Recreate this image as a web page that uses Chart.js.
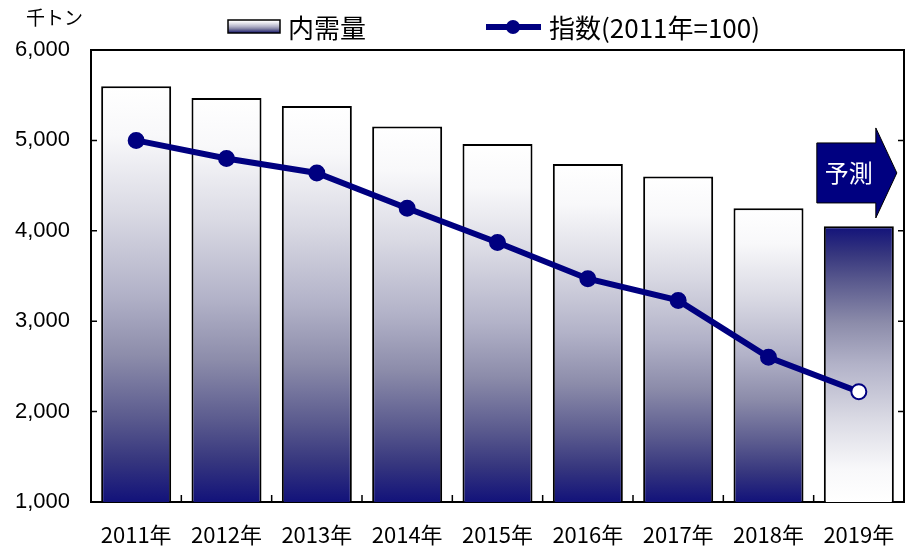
<!DOCTYPE html>
<html lang="ja">
<head>
<meta charset="utf-8">
<title>内需量と指数</title>
<script src="https://cdn.jsdelivr.net/npm/chart.js@4.4.1/dist/chart.umd.min.js"></script>
<style>
  html, body { margin: 0; padding: 0; background: #fff; }
  #chart-demand { display: block; }
</style>
</head>
<body>
<canvas id="chart-demand" width="905" height="549"></canvas>
<script>
// ===== DATA =====
const years = ["2011年", "2012年", "2013年", "2014年", "2015年", "2016年", "2017年", "2018年", "2019年"];
const demand = [5600, 5470, 5380, 5155, 4960, 4740, 4600, 4250, 4050]; // 千トン
const indexValues = [100, 98.0, 96.4, 92.5, 88.7, 84.7, 82.3, 76.0, 72.2]; // 2011年=100
const yTicks = [1000, 2000, 3000, 4000, 5000, 6000];
const forecastIndex = 8; // 2019年は予測

const NAVY = "#000080";
const JP_FONT = '"Noto Sans CJK JP", "Noto Sans", sans-serif';

// 白 → 紺のグラデーション（上から下）
const gradStops = [
  [0, "#ffffff"],
  [0.12, "#f8f8fa"],
  [0.3, "#dadae4"],
  [0.5, "#b2b2c8"],
  [0.65, "#8c8caa"],
  [0.8, "#5a5a8e"],
  [0.9, "#36367e"],
  [1, "#12127a"],
];

function barGradient(ctx, top, bottom, reverse) {
  const g = ctx.createLinearGradient(0, top, 0, bottom);
  gradStops.forEach(([p, c]) => g.addColorStop(reverse ? 1 - p : p, c));
  return g;
}

const canvas = document.getElementById("chart-demand");
const ctx = canvas.getContext("2d");

new Chart(ctx, {
  data: {
    labels: years,
    datasets: [
      {
        type: "line",
        label: "指数(2011年=100)",
        data: indexValues,
        yAxisID: "y1",
        order: 0,
        borderColor: NAVY,
        borderWidth: 6,
        tension: 0,
        pointRadius: 7.5,
        pointHoverRadius: 7.5,
        pointBorderWidth: 2,
        pointBorderColor: NAVY,
        pointBackgroundColor: years.map((y, i) => (i === forecastIndex ? "#fff" : NAVY)),
      },
      {
        type: "bar",
        label: "内需量",
        data: demand,
        yAxisID: "y",
        order: 1,
        borderColor: "#000",
        borderWidth: 2,
        barPercentage: 0.775,
        categoryPercentage: 1,
        backgroundColor: (context) => {
          const { chart, dataIndex } = context;
          if (!chart.chartArea) return "#fff";
          const ys = chart.scales.y;
          const top = ys.getPixelForValue(demand[dataIndex]);
          const bottom = ys.getPixelForValue(ys.min);
          return barGradient(chart.ctx, top, bottom, dataIndex === forecastIndex);
        },
      },
    ],
  },
  options: {
    responsive: false,
    animation: false,
    layout: {
      autoPadding: false, // без автоотступа под точки
      padding: { top: 50, right: 1, bottom: 0, left: 0 },
    },
    plugins: {
      legend: { display: false },
      tooltip: { enabled: false },
    },
    scales: {
      x: {
        offset: true,
        grid: { display: false },
        border: { display: false },
        afterFit: (scale) => {
          scale.height = 47;
          scale.paddingLeft = 0;
          scale.paddingRight = 0;
        },
        ticks: {
          color: "#000",
          font: { family: JP_FONT, size: 22 },
          padding: 11,
          maxRotation: 0,
        },
      },
      y: {
        min: 1000,
        max: 6000,
        grid: { display: false },
        border: { display: false },
        afterFit: (scale) => {
          scale.width = 91;
        },
        afterBuildTicks: (scale) => {
          scale.ticks = yTicks.map((v) => ({ value: v }));
        },
        ticks: {
          color: "#000",
          font: { family: '"Liberation Sans", Arial, sans-serif', size: 22 },
          padding: 13,
          callback: (v) => v.toLocaleString("en-US"),
        },
      },
      y1: {
        display: false,
        position: "right",
        min: 60,
        max: 110,
      },
    },
  },
  plugins: [
    {
      // 枠と内向きの目盛り
      id: "frameTicks",
      beforeDatasetsDraw(chart) {
        const { ctx, chartArea: { left, right, top, bottom }, scales } = chart;
        ctx.save();
        ctx.strokeStyle = "#000";
        ctx.lineWidth = 2;
        ctx.strokeRect(left, top, right - left, bottom - top);

        ctx.lineWidth = 1.5;
        ctx.beginPath();
        yTicks.forEach((v) => {
          const y = scales.y.getPixelForValue(v);
          ctx.moveTo(left, y);
          ctx.lineTo(left + 6, y);
          ctx.moveTo(right - 6, y);
          ctx.lineTo(right, y);
        });
        for (let i = 1; i < years.length; i++) {
          const x = (scales.x.getPixelForValue(i - 1) + scales.x.getPixelForValue(i)) / 2;
          ctx.moveTo(x, bottom);
          ctx.lineTo(x, bottom - 7);
        }
        ctx.stroke();
        ctx.restore();
      },
    },
    {
      // 予測の矢印
      id: "forecastArrow",
      afterDatasetsDraw(chart) {
        const { ctx, scales } = chart;
        const cx = scales.x.getPixelForValue(forecastIndex);
        const cy = scales.y.getPixelForValue(4640);
        const x0 = cx - 42, x1 = cx + 17, tip = cx + 38;

        ctx.save();
        ctx.beginPath();
        ctx.moveTo(x0, cy - 30);
        ctx.lineTo(x1, cy - 30);
        ctx.lineTo(x1, cy - 45);
        ctx.lineTo(tip, cy);
        ctx.lineTo(x1, cy + 45);
        ctx.lineTo(x1, cy + 30);
        ctx.lineTo(x0, cy + 30);
        ctx.closePath();
        ctx.fillStyle = NAVY;
        ctx.fill();
        ctx.strokeStyle = "#000";
        ctx.lineWidth = 1;
        ctx.stroke();

        ctx.fillStyle = "#fff";
        ctx.font = `24px ${JP_FONT}`;
        ctx.textAlign = "center";
        ctx.textBaseline = "middle";
        ctx.fillText("予測", cx - 10, cy);
        ctx.restore();
      },
    },
    {
      // 凡例と単位
      id: "customLegend",
      afterDraw(chart) {
        const { ctx } = chart;
        ctx.save();
        ctx.fillStyle = "#000";
        ctx.textBaseline = "middle";
        ctx.textAlign = "left";

        ctx.font = `19px ${JP_FONT}`;
        ctx.fillText("千トン", 26, 18);

        // 内需量
        const g = barGradient(ctx, 20, 33, false);
        ctx.fillStyle = g;
        ctx.fillRect(228, 20, 52, 13);
        ctx.strokeStyle = "#000";
        ctx.lineWidth = 1.5;
        ctx.strokeRect(228, 20, 52, 13);

        ctx.fillStyle = "#000";
        ctx.font = `26px ${JP_FONT}`;
        ctx.fillText("内需量", 288, 28);

        // 指数
        ctx.strokeStyle = NAVY;
        ctx.lineWidth = 6;
        ctx.beginPath();
        ctx.moveTo(486, 27);
        ctx.lineTo(541, 27);
        ctx.stroke();
        ctx.fillStyle = NAVY;
        ctx.beginPath();
        ctx.arc(513, 27, 7, 0, Math.PI * 2);
        ctx.fill();

        ctx.fillStyle = "#000";
        ctx.fillText("指数(2011年=100)", 549, 28);
        ctx.restore();
      },
    },
  ],
});
</script>
</body>
</html>
